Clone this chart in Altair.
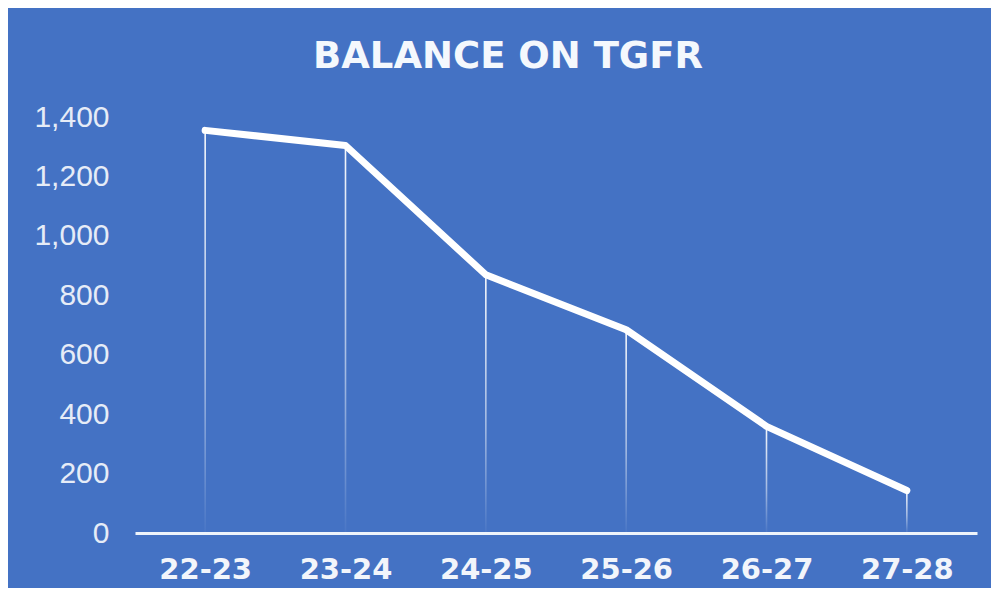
import altair as alt
import pandas as pd

years = ["22-23", "23-24", "24-25", "25-26", "26-27", "27-28"]
balance = [1355, 1304, 869, 684, 359, 143]

df = pd.DataFrame({"year": years, "balance": balance})

BG = "#4472C4"

x = alt.X("year:N", sort=years, title=None,
          scale=alt.Scale(type="point", padding=0.5),
          axis=alt.Axis(labelAngle=0, labelFont="DejaVu Sans", labelFontWeight="bold",
                        labelFontSize=29, labelColor="#f2f5fb", labelPadding=22,
                        ticks=False, domain=True, domainColor="#eef4fb", domainWidth=3,
                        grid=False, labelBaseline="top"))
y = alt.Y("balance:Q", title=None,
          scale=alt.Scale(domain=[0, 1400], nice=False),
          axis=alt.Axis(values=[0, 200, 400, 600, 800, 1000, 1200, 1400], format=",d",
                        labelFont="Liberation Sans", labelFontSize=30, labelColor="#e6ecf7",
                        labelPadding=26, ticks=False, domain=False, grid=False))

grad = alt.Gradient(gradient="linear",
                    stops=[alt.GradientStop(color="rgba(255,255,255,0.95)", offset=0),
                           alt.GradientStop(color="rgba(255,255,255,0.5)", offset=0.6),
                           alt.GradientStop(color="rgba(255,255,255,0.03)", offset=1)],
                    x1=0, x2=0, y1=0, y2=1)

drops = alt.Chart(df).mark_bar(width=1.6, color=grad).encode(x=x, y=y)
line = alt.Chart(df).mark_line(color="white", strokeWidth=7, strokeCap="round",
                               strokeJoin="round").encode(x=x, y=y)

chart = (drops + line).properties(
    width=842, height=416,
    title=alt.TitleParams("BALANCE ON TGFR", font="DejaVu Sans", fontWeight="bold",
                          fontSize=37, color="#f4f8fd", anchor="middle", frame="group",
                          dx=-48, dy=33, offset=30, baseline="alphabetic"),
    background=BG,
    padding={"left": 127, "top": 109, "right": 14, "bottom": 55},
    autosize=alt.AutoSizeParams(type="none"),
).configure_view(stroke=None)

chart.save("out.html", embed_options={"renderer": "svg", "actions": False})
